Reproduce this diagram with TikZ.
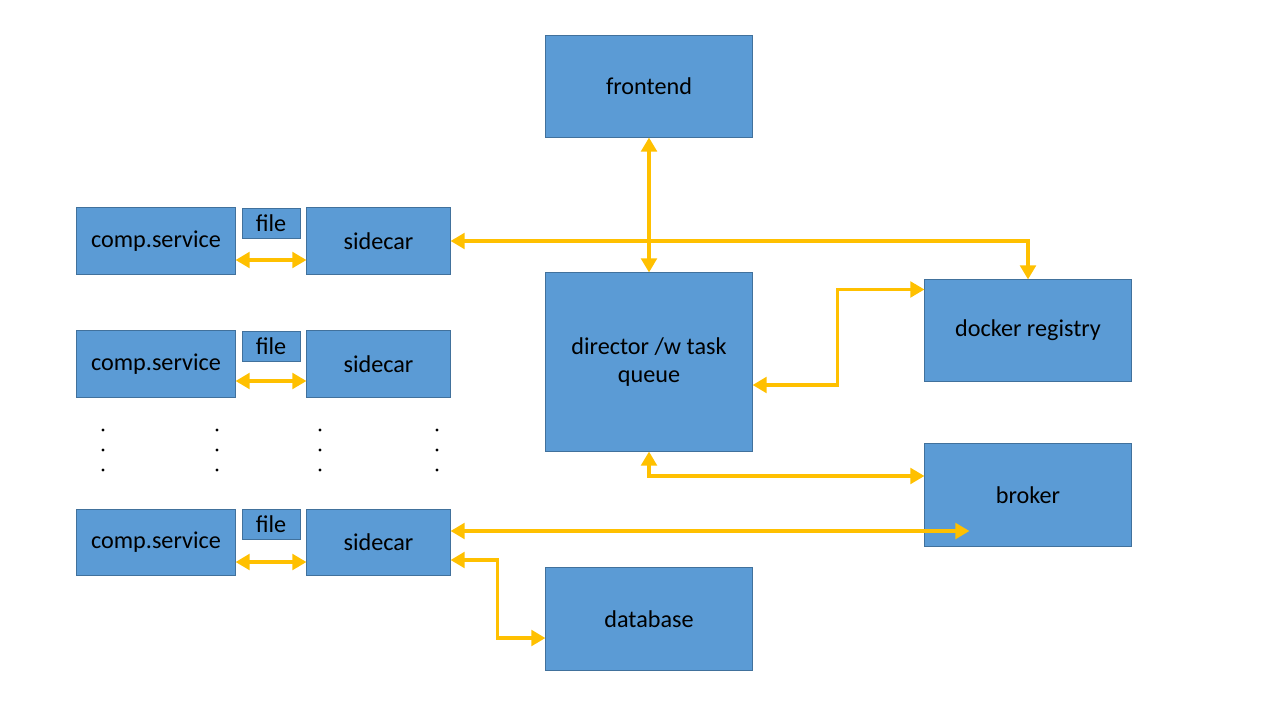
\documentclass[tikz,border=0pt]{standalone}
\usepackage{fontspec}
\setmainfont{Carlito}
\usepackage{tikz}
\usetikzlibrary{arrows.meta}

\definecolor{boxblue}{HTML}{5B9BD5}
\definecolor{boxline}{HTML}{41719C}
\definecolor{linkyellow}{HTML}{FFC000}

\begin{document}
\begin{tikzpicture}[x=0.025cm,y=-0.025cm,
  box/.style={draw=boxline,fill=boxblue,line width=0.7pt,inner sep=0pt,align=center,font=\fontsize{17.2}{20.5}\selectfont},
  link/.style={draw=linkyellow,line width=2.6pt,{Triangle[length=10pt,width=11pt]}-{Triangle[length=10pt,width=11pt]}}]
\useasboundingbox (0,0) rectangle (1280,720);

% right part
\node[box,minimum width=5.15cm,minimum height=2.525cm] (frontend) at (649,86.5) {frontend};
\node[box,minimum width=5.15cm,minimum height=4.45cm] (director) at (649,362) {director /w task\\queue};
\node[box,minimum width=5.15cm,minimum height=2.525cm] (registry) at (1028,330.5) {docker registry};
\node[box,minimum width=5.15cm,minimum height=2.55cm] (broker) at (1028,495) {broker};
\node[box,minimum width=5.15cm,minimum height=2.55cm] (database) at (649,619) {database};

% workers
\node[box,minimum width=3.95cm,minimum height=1.65cm] (comp1) at (156,241) {comp.service};
\node[box,minimum width=1.45cm,minimum height=0.75cm] (file1) at (271,223) {file};
\node[box,minimum width=3.575cm,minimum height=1.65cm] (side1) at (378.5,241) {sidecar};

\node[box,minimum width=3.95cm,minimum height=1.65cm] (comp2) at (156,364) {comp.service};
\node[box,minimum width=1.45cm,minimum height=0.75cm] (file2) at (271,346) {file};
\node[box,minimum width=3.575cm,minimum height=1.65cm] (side2) at (378.5,364) {sidecar};

\node[box,minimum width=3.95cm,minimum height=1.65cm] (comp3) at (156,542) {comp.service};
\node[box,minimum width=1.45cm,minimum height=0.75cm] (file3) at (271,524) {file};
\node[box,minimum width=3.575cm,minimum height=1.65cm] (side3) at (378.5,542) {sidecar};

% dots
\foreach \x in {103,217,320,437}
  \foreach \y in {430,450,470}
    \fill (\x,\y) circle (1.2pt);

% connections
\draw[link] ([yshift=-0.475cm]comp1.east) -- ([yshift=-0.475cm]side1.west);
\draw[link] ([yshift=-0.425cm]comp2.east) -- ([yshift=-0.425cm]side2.west);
\draw[link] ([yshift=-0.5cm]comp3.east) -- ([yshift=-0.5cm]side3.west);

\draw[link] (frontend.south) -- (director.north);
\draw[link] (side1.east) -| (registry.north);
\draw[link] ([yshift=-0.575cm]director.east) -- ++(85,0) |- ([yshift=-0.25cm]registry.north west);
\draw[link] (director.south) |- ([yshift=0.475cm]broker.west);
\draw[link] ([yshift=0.275cm]side3.east) -- ([xshift=1.125cm,yshift=-0.9cm]broker.west);
\draw[link] ([yshift=-0.45cm]side3.east) -- ++(47,0) |- ([yshift=-0.475cm]database.west);
\end{tikzpicture}
\end{document}
